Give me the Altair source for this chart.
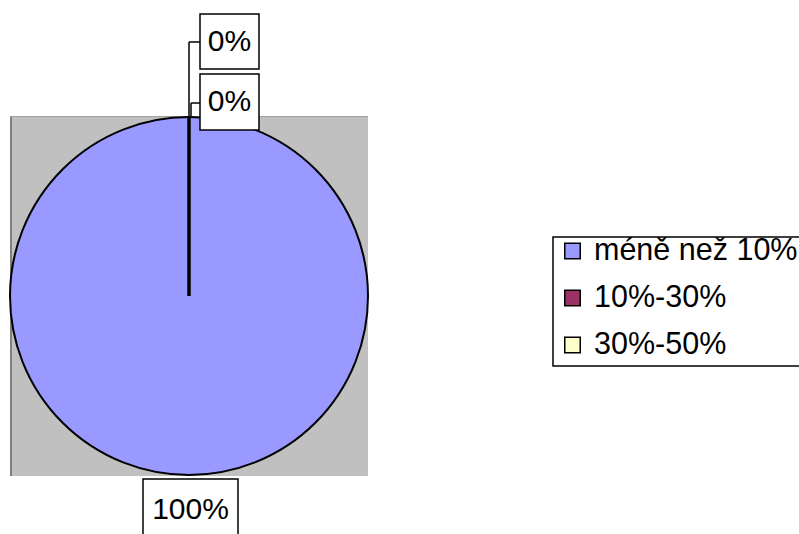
import altair as alt
import pandas as pd

categories = ["méně než 10%", "10%-30%", "30%-50%"]
values = [100, 0, 0]
colors = ["#9999FF", "#993366", "#FFFFCC"]
pct_labels = ["100%", "0%", "0%"]

FONT = "Liberation Sans"
W, H = 799, 534
CX, CY, R = 189, 296, 179

pie_df = pd.DataFrame({"cat": categories, "value": values, "order": [0, 1, 2]})
one = pd.DataFrame({"a": [0]})

color_scale = alt.Scale(domain=categories, range=colors)

# plot-area background
bg = alt.Chart(one).mark_rect(color="#C0C0C0").encode(
    x=alt.value(10), x2=alt.value(368), y=alt.value(116), y2=alt.value(476)
)
bg_left = alt.Chart(one).mark_rule(color="#808080", strokeWidth=2).encode(
    x=alt.value(11), y=alt.value(116), y2=alt.value(476)
)
bg_top = alt.Chart(one).mark_rule(color="#A0A0A0", strokeWidth=1).encode(
    x=alt.value(10), x2=alt.value(368), y=alt.value(116.5)
)

pie = alt.Chart(pie_df).mark_arc(radius=R, stroke="black").encode(
    theta=alt.Theta("value:Q", stack=True),
    color=alt.Color("cat:N", scale=color_scale, legend=None),
    order=alt.Order("order:Q"),
    strokeWidth=alt.condition("datum.value == 0", alt.value(3), alt.value(2)),
    x=alt.value(CX),
    y=alt.value(CY),
)

# leader lines for the two 0% labels
leaders = pd.DataFrame({
    "x": [189, 189, 191, 191],
    "x2": [189, 200, 191, 200],
    "y": [42, 42, 103, 103],
    "y2": [116, 42, 116, 103],
})
xs = alt.Scale(domain=[0, W], range=[0, W])
ys = alt.Scale(domain=[0, H], range=[0, H])
leader = alt.Chart(leaders).mark_rule(color="black", strokeWidth=1.5).encode(
    x=alt.X("x:Q", scale=xs, axis=None),
    x2="x2:Q",
    y=alt.Y("y:Q", scale=ys, axis=None),
    y2="y2:Q",
)

lab_df = pd.DataFrame({
    "label": [pct_labels[1], pct_labels[2], pct_labels[0]],
    "x0": [200, 200, 143],
    "x1": [259, 259, 238],
    "y0": [14, 74, 479],
    "y1": [69, 130, 560],
    "ty": [42, 102, 510],
})
lab_df["tx"] = (lab_df["x0"] + lab_df["x1"]) / 2
boxes = alt.Chart(lab_df).mark_rect(fill="white", stroke="black", strokeWidth=1.5).encode(
    x=alt.X("x0:Q", scale=xs, axis=None), x2="x1:Q",
    y=alt.Y("y0:Q", scale=ys, axis=None), y2="y1:Q",
)
texts = alt.Chart(lab_df).mark_text(font=FONT, fontSize=30, color="black",
                                    align="center", baseline="middle").encode(
    x=alt.X("tx:Q", scale=xs, axis=None),
    y=alt.Y("ty:Q", scale=ys, axis=None),
    text="label:N",
)

# legend
leg_df = pd.DataFrame({"cat": categories, "ly": [251, 298, 345]})
leg_box = alt.Chart(one).mark_rect(fill="white", stroke="black", strokeWidth=1.5).encode(
    x=alt.value(553), x2=alt.value(810), y=alt.value(237), y2=alt.value(366)
)
leg_sym = alt.Chart(leg_df).mark_square(size=240, stroke="black", strokeWidth=1.5, opacity=1).encode(
    x=alt.value(572.5),
    y=alt.Y("ly:Q", scale=ys, axis=None),
    fill=alt.Fill("cat:N", scale=color_scale, legend=None),
)
leg_txt = alt.Chart(leg_df).mark_text(font=FONT, fontSize=30.5, color="black",
                                      align="left", baseline="middle").encode(
    x=alt.value(594),
    y=alt.Y("ly:Q", scale=ys, axis=None),
    text="cat:N",
)

chart = alt.layer(
    bg, bg_left, bg_top, pie, leader, boxes, texts, leg_box, leg_sym, leg_txt
).properties(
    width=W, height=H, autosize=alt.AutoSizeParams(type="none"), padding=0,
    background="white",
).configure_view(stroke=None).resolve_scale(color="shared")

chart.save("out.html", embed_options={"renderer": "svg", "actions": False})
